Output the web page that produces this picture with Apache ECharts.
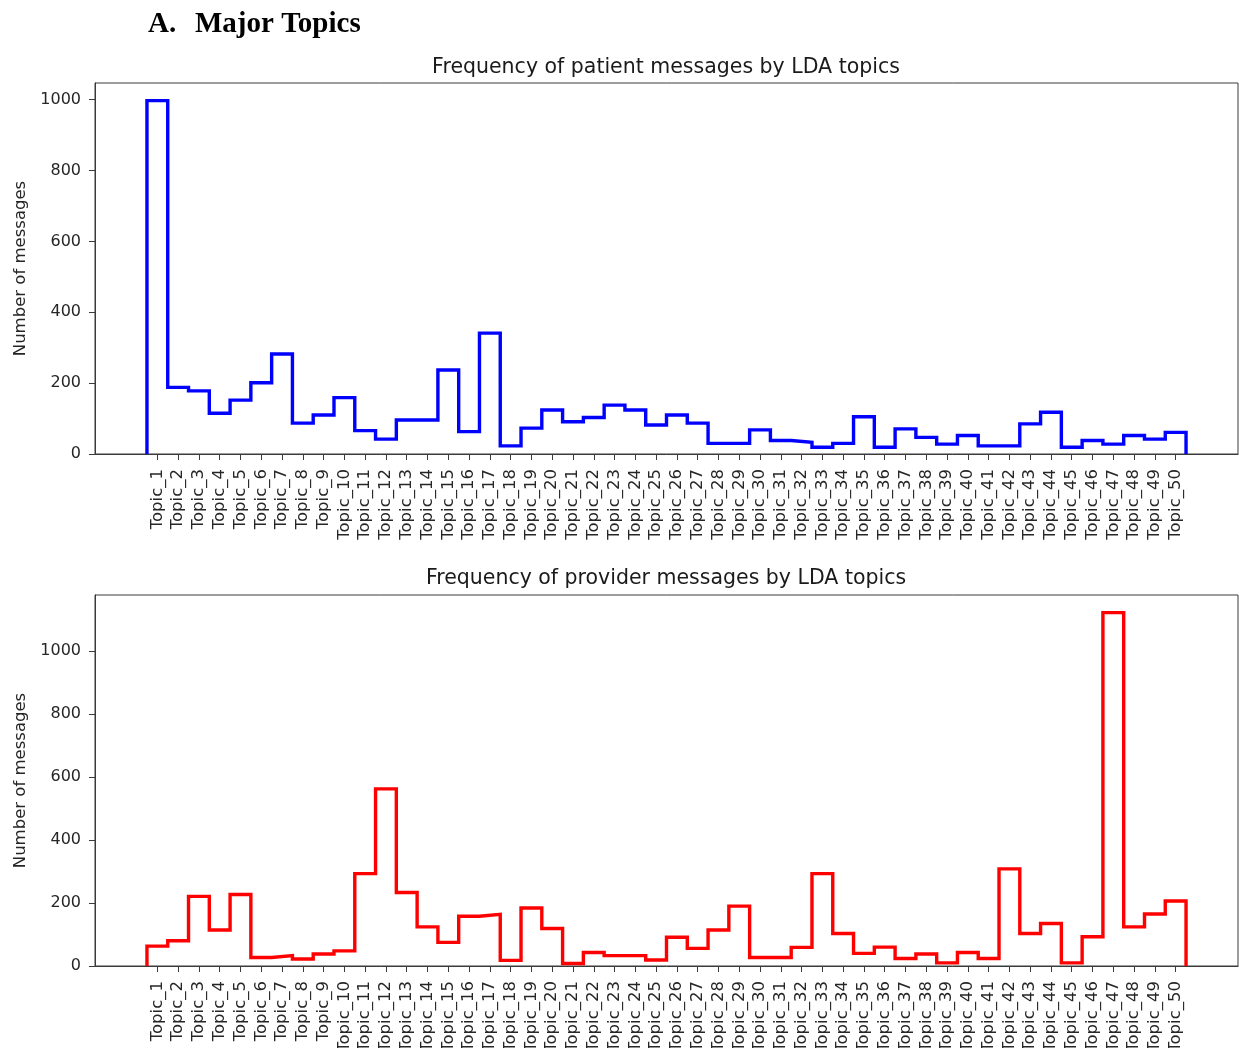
<!DOCTYPE html>
<html>
<head>
<meta charset="utf-8">
<script src="https://cdn.jsdelivr.net/npm/echarts@6/dist/echarts.min.js"></script>
<style>
html,body{margin:0;padding:0;background:#fff;}
#chart{width:1239px;height:1048px;}
</style>
</head>
<body>
<div id="chart"></div>
<script>
// ---- data ----
const topics = Array.from({length: 50}, (_, i) => 'Topic_' + (i + 1));
const patientCounts = [997,188,178,115,152,201,282,87,110,159,66,42,96,96,237,63,341,23,73,124,
  91,103,138,124,82,110,87,30,30,68,38,33,19,30,105,19,71,47,28,52,
  23,23,85,118,19,38,28,52,42,61];
const providerCounts = [63,80,221,114,227,27,33,22,38,48,293,562,233,124,75,158,164,18,184,119,
  8,43,33,33,19,91,56,114,190,27,27,59,293,103,40,60,24,38,10,43,
  24,308,103,135,10,93,1121,124,165,206];
const yTicksTop = [0,200,400,600,800,1000];
const yTicksBottom = [0,200,400,600,800,1000];
const titleTop = 'Frequency of patient messages by LDA topics';
const titleBottom = 'Frequency of provider messages by LDA topics';
const yName = 'Number of messages';

// step-histogram outline built from the counts (bin i spans i-0.5 .. i+0.5)
function stepPath(vals) {
  const pts = [[-0.5, 0]];
  vals.forEach((v, i) => { pts.push([i - 0.5, v]); pts.push([i + 0.5, v]); });
  pts.push([vals.length - 0.5, 0]);
  return pts;
}
const tickIdx = topics.map((_, i) => i);
const FONT = 'DejaVu Sans';
const textColor = '#262626';
const lineColor = '#3a3a3a';

function xAxis(gridIndex) {
  return {
    type: 'value', gridIndex, min: -3, max: 52, interval: 1,
    axisLine: {show: true, onZero: false, lineStyle: {color: lineColor, width: 1}},
    axisTick: {show: true, length: 6, customValues: tickIdx, lineStyle: {color: lineColor}},
    axisLabel: {show: true, rotate: 90, customValues: tickIdx, fontFamily: FONT, fontSize: 16.5,
      color: textColor, margin: 15, formatter: v => topics[v] || ''},
    splitLine: {show: false}
  };
}
function yAxis(gridIndex, vals, ticks) {
  return {
    type: 'value', gridIndex, min: 0, max: Math.max(...vals) * 1.05,
    name: yName, nameLocation: 'middle', nameGap: 66, nameRotate: 90,
    nameTextStyle: {fontFamily: FONT, fontSize: 16.5, color: textColor},
    axisLine: {show: true, onZero: false, lineStyle: {color: lineColor, width: 1}},
    axisTick: {show: true, length: 6, customValues: ticks, lineStyle: {color: lineColor}},
    axisLabel: {show: true, customValues: ticks, fontFamily: FONT, fontSize: 16, color: textColor, margin: 14,
      formatter: v => String(v)},
    splitLine: {show: false}
  };
}

const chart = echarts.init(document.getElementById('chart'), null, {renderer: 'canvas'});
chart.setOption({
  backgroundColor: '#fff',
  animation: false,
  title: [
    {text: titleTop, left: 661, top: 52, textAlign: 'center',
      textStyle: {fontFamily: FONT, fontSize: 20.5, fontWeight: 'normal', color: '#1a1a1a'}},
    {text: titleBottom, left: 661, top: 563, textAlign: 'center',
      textStyle: {fontFamily: FONT, fontSize: 20.5, fontWeight: 'normal', color: '#1a1a1a'}}
  ],
  graphic: [
    {type: 'text', left: 148, top: 10, style: {text: 'A.', font: 'bold 29px "Liberation Serif"', fill: '#000'}},
    {type: 'text', left: 195, top: 10, style: {text: 'Major Topics', font: 'bold 29px "Liberation Serif"', fill: '#000'}}
  ],
  grid: [
    {left: 95, top: 83, width: 1143, height: 371, show: true, borderColor: lineColor, borderWidth: 1,
      backgroundColor: '#fff', containLabel: false, outerBoundsMode: 'none'},
    {left: 95, top: 595, width: 1143, height: 371, show: true, borderColor: lineColor, borderWidth: 1,
      backgroundColor: '#fff', containLabel: false, outerBoundsMode: 'none'}
  ],
  xAxis: [xAxis(0), xAxis(1)],
  yAxis: [yAxis(0, patientCounts, yTicksTop), yAxis(1, providerCounts, yTicksBottom)],
  series: [
    {type: 'line', xAxisIndex: 0, yAxisIndex: 0, data: stepPath(patientCounts), showSymbol: false,
      lineStyle: {color: '#0000ff', width: 3.4, join: 'miter'}, itemStyle: {color: '#0000ff'}, clip: false},
    {type: 'line', xAxisIndex: 1, yAxisIndex: 1, data: stepPath(providerCounts), showSymbol: false,
      lineStyle: {color: '#ff0000', width: 3.4, join: 'miter'}, itemStyle: {color: '#ff0000'}, clip: false}
  ]
});
</script>
</body>
</html>
